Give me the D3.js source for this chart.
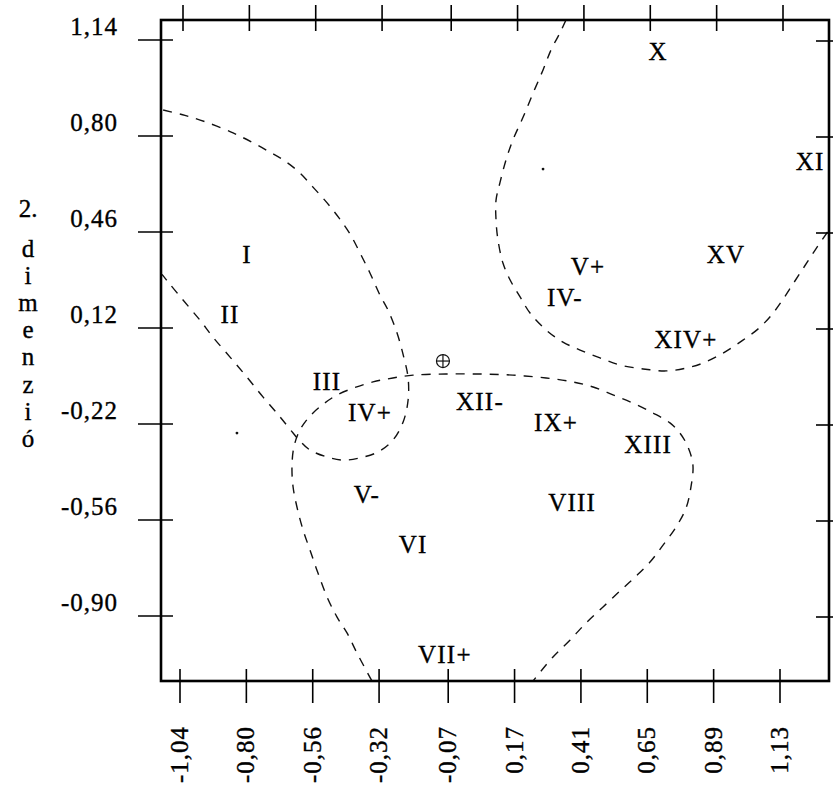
<!DOCTYPE html>
<html><head><meta charset="utf-8">
<script src="https://cdn.jsdelivr.net/npm/d3@7/dist/d3.min.js"></script>
<style>body{margin:0;background:#fff}svg{display:block}</style>
</head><body>
<svg id="chart" width="833" height="785"></svg>
<script>
// ---- data ----
const xTicks = [-1.04, -0.80, -0.56, -0.32, -0.07, 0.17, 0.41, 0.65, 0.89, 1.13];
const xTickLabels = ["-1,04", "-0,80", "-0,56", "-0,32", "-0,07", "0,17", "0,41", "0,65", "0,89", "1,13"];
const yTicks = [1.14, 0.80, 0.46, 0.12, -0.22, -0.56, -0.90];
const yTickLabels = ["1,14", "0,80", "0,46", "0,12", "-0,22", "-0,56", "-0,90"];
const yTitleLines = ["2.", "d", "i", "m", "e", "n", "z", "i", "ó"];

const pointLabels = ["X", "XI", "XV", "V+", "IV-", "I", "II", "III", "IV+", "V-", "VI", "VII+", "XIV+", "XII-", "IX+", "XIII", "VIII"];
const pointX = [0.689, 1.239, 0.935, 0.436, 0.352, -0.798, -0.859, -0.508, -0.353, -0.364, -0.197, -0.082, 0.790, 0.045, 0.320, 0.653, 0.378];
const pointY = [1.098, 0.708, 0.379, 0.336, 0.226, 0.379, 0.166, -0.071, -0.181, -0.471, -0.649, -1.038, 0.077, -0.142, -0.216, -0.294, -0.500];

const dotX = [-0.834, 0.273];
const dotY = [-0.252, 0.683];
const originMark = [-0.089, 0.003];

// dashed cluster boundaries
const boundaryLeft = [
  [-1.101, 0.892], [-1.022, 0.873], [-0.942, 0.848], [-0.848, 0.811], [-0.776, 0.776], [-0.715, 0.743],
  [-0.660, 0.711], [-0.606, 0.669], [-0.559, 0.619], [-0.508, 0.563], [-0.465, 0.510], [-0.425, 0.453],
  [-0.389, 0.386], [-0.353, 0.315], [-0.317, 0.237], [-0.288, 0.184], [-0.255, 0.102], [-0.230, 0.014],
  [-0.215, -0.057], [-0.215, -0.135], [-0.233, -0.213], [-0.270, -0.277], [-0.324, -0.319], [-0.389, -0.340],
  [-0.450, -0.348], [-0.508, -0.337], [-0.570, -0.312], [-0.606, -0.280], [-0.631, -0.252], [-0.678, -0.195],
  [-0.740, -0.124], [-0.798, -0.054], [-0.859, 0.017], [-0.921, 0.088], [-0.968, 0.148], [-1.029, 0.219],
  [-1.083, 0.283], [-1.105, 0.310]
];
const boundaryBottom = [
  [-0.346, -1.130], [-0.400, -1.031], [-0.436, -0.960], [-0.472, -0.904], [-0.508, -0.833], [-0.541, -0.748],
  [-0.570, -0.666], [-0.595, -0.595], [-0.617, -0.514], [-0.631, -0.443], [-0.635, -0.372], [-0.628, -0.301],
  [-0.606, -0.241], [-0.570, -0.192], [-0.526, -0.153], [-0.479, -0.121], [-0.414, -0.093], [-0.342, -0.071],
  [-0.270, -0.057], [-0.197, -0.047], [-0.078, -0.043], [0.045, -0.043], [0.164, -0.047], [0.284, -0.057],
  [0.381, -0.071], [0.454, -0.089], [0.526, -0.117], [0.598, -0.146], [0.671, -0.181], [0.732, -0.216],
  [0.768, -0.252], [0.797, -0.301], [0.815, -0.365], [0.808, -0.443], [0.790, -0.518], [0.754, -0.585],
  [0.707, -0.649], [0.660, -0.709], [0.606, -0.762], [0.555, -0.808], [0.490, -0.868], [0.428, -0.925],
  [0.371, -0.985], [0.309, -1.045], [0.237, -1.130]
];
const boundaryRight = [
  [0.356, 1.211], [0.334, 1.165], [0.302, 1.105], [0.273, 1.034], [0.237, 0.952], [0.201, 0.867],
  [0.164, 0.786], [0.139, 0.715], [0.117, 0.634], [0.103, 0.573], [0.103, 0.502], [0.110, 0.432],
  [0.128, 0.350], [0.154, 0.290], [0.190, 0.230], [0.226, 0.173], [0.284, 0.113], [0.345, 0.070],
  [0.407, 0.042], [0.479, 0.014], [0.551, -0.011], [0.635, -0.025], [0.718, -0.032], [0.790, -0.022],
  [0.852, -0.004], [0.924, 0.031], [0.996, 0.077], [1.050, 0.116], [1.097, 0.163], [1.137, 0.216],
  [1.177, 0.276], [1.217, 0.336], [1.257, 0.396], [1.307, 0.467]
];

// ---- layout ----
const frame = {left: 161, right: 829, top: 20, bottom: 681};
const x = d3.scaleLinear().domain([-1.04, 1.13]).range([180, 780]);
const y = d3.scaleLinear().domain([-0.90, 1.14]).range([616, 40]);
const FONT = "'Liberation Serif', 'Times New Roman', serif";

const svg = d3.select("#chart");

svg.append("defs").append("clipPath").attr("id", "plotclip")
  .append("rect")
  .attr("x", frame.left).attr("y", frame.top)
  .attr("width", frame.right - frame.left).attr("height", frame.bottom - frame.top);

// dashed boundaries
const line = d3.line().x(d => x(d[0])).y(d => y(d[1])).curve(d3.curveCatmullRom.alpha(0.5));
const gB = svg.append("g").attr("clip-path", "url(#plotclip)");
[boundaryLeft, boundaryBottom, boundaryRight].forEach(b => {
  gB.append("path").attr("d", line(b))
    .attr("fill", "none").attr("stroke", "#111")
    .attr("stroke-width", 1.4).attr("stroke-dasharray", "9,8");
});

// frame
svg.append("rect")
  .attr("x", frame.left).attr("y", frame.top)
  .attr("width", frame.right - frame.left).attr("height", frame.bottom - frame.top)
  .attr("fill", "none").attr("stroke", "#000").attr("stroke-width", 2.6);

// ticks
const tickG = svg.append("g").attr("stroke", "#000").attr("stroke-width", 1.6);
xTicks.forEach(v => {
  tickG.append("line").attr("x1", x(v) + 3).attr("x2", x(v) + 3).attr("y1", 5).attr("y2", 31);
  tickG.append("line").attr("x1", x(v)).attr("x2", x(v)).attr("y1", 669).attr("y2", 703);
});
yTicks.forEach(v => {
  tickG.append("line").attr("x1", 138).attr("x2", 173).attr("y1", y(v)).attr("y2", y(v));
  tickG.append("line").attr("x1", 816).attr("x2", 840).attr("y1", y(v) + 1).attr("y2", y(v) + 1);
});

const textStroke = sel => sel.attr("fill", "#000").attr("stroke", "#000").attr("stroke-width", 0.35);

// y tick labels
svg.append("g").call(textStroke).selectAll("text").data(yTicks).join("text")
  .attr("x", 118).attr("y", d => y(d) - 5)
  .attr("text-anchor", "end")
  .attr("font-family", FONT).attr("font-size", 25).attr("letter-spacing", 1)
  .text((d, i) => yTickLabels[i]);

// x tick labels (rotated)
svg.append("g").call(textStroke).selectAll("text").data(xTicks).join("text")
  .attr("transform", d => `translate(${x(d) + 8},726) rotate(-90)`)
  .attr("text-anchor", "end")
  .attr("font-family", FONT).attr("font-size", 25).attr("letter-spacing", 1)
  .text((d, i) => xTickLabels[i]);

// y axis title, stacked letters
svg.append("g").call(textStroke).selectAll("text").data(yTitleLines).join("text")
  .attr("x", 28)
  .attr("y", (d, i) => i === 0 ? 217 : 257 + (i - 1) * 27.1)
  .attr("text-anchor", "middle")
  .attr("font-family", FONT).attr("font-size", 25)
  .text(d => d);

// cluster labels
svg.append("g").call(textStroke).selectAll("text").data(pointLabels).join("text")
  .attr("x", (d, i) => x(pointX[i]))
  .attr("y", (d, i) => y(pointY[i]))
  .attr("dy", "0.33em")
  .attr("text-anchor", "middle")
  .attr("font-family", FONT).attr("font-size", 25).attr("letter-spacing", 1.2)
  .text(d => d);

// tiny dots
svg.append("g").selectAll("circle").data(dotX).join("circle")
  .attr("cx", d => x(d)).attr("cy", (d, i) => y(dotY[i]))
  .attr("r", 1.4).attr("fill", "#111");

// origin mark (circle with plus)
const om = svg.append("g").attr("stroke", "#111").attr("stroke-width", 1.2).attr("fill", "none");
const ox = x(originMark[0]), oy = y(originMark[1]);
om.append("circle").attr("cx", ox).attr("cy", oy).attr("r", 6.5);
om.append("line").attr("x1", ox - 6.5).attr("x2", ox + 6.5).attr("y1", oy).attr("y2", oy);
om.append("line").attr("x1", ox).attr("x2", ox).attr("y1", oy - 6.5).attr("y2", oy + 6.5);
</script>
</body></html>
